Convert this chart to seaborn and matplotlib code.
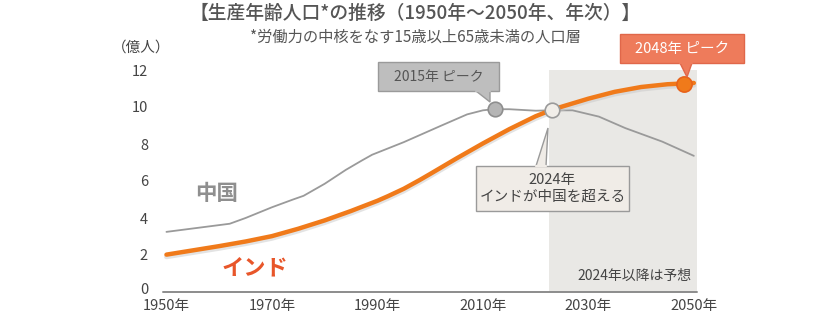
import matplotlib
matplotlib.use("Agg")
import matplotlib.pyplot as plt
import matplotlib.transforms as mtrans
import seaborn as sns
import pandas as pd
from matplotlib.patches import FancyBboxPatch

sns.set_theme(style="white")
plt.rcParams['font.family'] = ['Noto Sans CJK JP', 'DejaVu Sans']

# ---- data (100 million people) ----
china_years = [1950, 1962, 1965, 1970, 1974, 1976, 1980, 1984, 1987, 1989, 1995, 2002,
               2007, 2010, 2012, 2015, 2020, 2023, 2027, 2032, 2037, 2044, 2050]
china_vals = [3.25, 3.69, 4.0, 4.58, 5.0, 5.2, 5.85, 6.6, 7.1, 7.42, 8.1, 8.98,
              9.6, 9.82, 9.88, 9.88, 9.8, 9.82, 9.82, 9.48, 8.86, 8.13, 7.36]
india_years = [1950, 1955, 1960, 1965, 1970, 1975, 1980, 1985, 1990, 1992, 1995, 1998, 2000,
               2005, 2010, 2015, 2020, 2023, 2025, 2030, 2035, 2040, 2045, 2048, 2050]
india_vals = [2.02, 2.25, 2.48, 2.73, 3.02, 3.42, 3.87, 4.38, 4.93, 5.18, 5.58, 6.05, 6.38,
              7.22, 8.03, 8.8, 9.5, 9.84, 10.02, 10.45, 10.82, 11.08, 11.23, 11.27, 11.3]

china_peak = (2012.3, 9.88)
cross_pt = (2023.1, 9.84)
india_peak = (2048.1, 11.27)
forecast_start = 2022.6

xticks = [1950, 1970, 1990, 2010, 2030, 2050]
xtick_labels = [f"{y}年" for y in xticks]
yticks = [0, 2, 4, 6, 8, 10, 12]

df_c = pd.DataFrame({"year": china_years, "val": china_vals})
df_i = pd.DataFrame({"year": india_years, "val": india_vals})

W, H = 823, 315
fig = plt.figure(figsize=(W / 100, H / 100), dpi=100)
x0, x1 = 163.3, 697.0
ytop, ybot = 70.0, 292.0
ax = fig.add_axes([x0 / W, (H - ybot) / H, (x1 - x0) / W, (ybot - ytop) / H])

ax.set_xlim(1949.4, 2050.6)
ax.set_ylim(0, 12)

# forecast shading
ax.axvspan(forecast_start, 2050.6, ymin=0, ymax=1, color="#E9E8E5", zorder=0, lw=0)

sns.lineplot(data=df_c, x="year", y="val", ax=ax, color="#9A9A9A", lw=1.3, zorder=2)
# soft shadow for India line
ax.plot(india_years, [v - 0.12 for v in india_vals], color="#C8C8C8", lw=3.5, alpha=0.5, zorder=2.5,
        solid_capstyle="round")
sns.lineplot(data=df_i, x="year", y="val", ax=ax, color="#F07A1A", lw=3.2, zorder=3)

# markers
ax.scatter([china_peak[0]], [china_peak[1]], s=110, color="#B5B5B5", edgecolor="#8E8E8E", lw=1.2, zorder=5)
ax.scatter([cross_pt[0]], [cross_pt[1]], s=110, color="#F1EEE9", edgecolor="#9A9A9A", lw=1.2, zorder=5)
ax.scatter([india_peak[0]], [india_peak[1]], s=120, color="#F07A1A", edgecolor="#E8621A", lw=1.2,
           zorder=5, clip_on=False)

for s in ["top", "right", "left", "bottom"]:
    ax.spines[s].set_visible(False)
# baseline
ax.axhline(0, color="#8C8C8C", lw=1.4, zorder=4, clip_on=False)

ax.set_xticks(xticks)
ax.set_xticklabels(xtick_labels, fontsize=10.5, color="#444444")
ax.set_yticks(yticks)
ax.set_yticklabels([str(v) for v in yticks], fontsize=10.5, color="#444444")
ax.tick_params(axis="both", length=0)
ax.tick_params(axis="x", pad=5)
ax.tick_params(axis="y", pad=11)
ax.set_xlabel("")
ax.set_ylabel("")
if ax.get_legend():
    ax.get_legend().remove()
# nudge the "0" label up slightly so it clears the first year label
lab0 = ax.get_yticklabels()[0]
lab0.set_transform(lab0.get_transform() + mtrans.ScaledTranslation(0, 2.5 / 72, fig.dpi_scale_trans))


def px(x, y):
    return (x / W, 1 - y / H)


# titles
fig.text(*px(415, 13), "【生産年齢人口*の推移（1950年～2050年、年次）】", fontsize=13.5,
         color="#555555", ha="center", va="center", fontweight="medium")
fig.text(*px(415, 37), "*労働力の中核をなす15歳以上65歳未満の人口層", fontsize=11,
         color="#555555", ha="center", va="center")
fig.text(*px(141, 48), "（億人）", fontsize=10.5, color="#444444", ha="center", va="center")

# series labels
fig.text(*px(217, 193), "中国", fontsize=15.5, color="#8F8F8F", ha="center", va="center", fontweight="bold")
fig.text(*px(255, 268), "インド", fontsize=16, color="#E8562A", ha="center", va="center", fontweight="bold")
fig.text(*px(634, 276), "2024年以降は予想", fontsize=10, color="#444444", ha="center", va="center")


def callout(x, y, w, h, text, fc, ec, tc, tip, base, fs=10):
    bx = FancyBboxPatch(px(x, y + h), w / W, h / H, boxstyle="square,pad=0",
                        transform=fig.transFigure, fc=fc, ec=ec, lw=1.0, zorder=10)
    fig.patches.append(bx)
    tri = plt.Polygon([px(*base[0]), px(*tip), px(*base[1])], closed=True,
                      transform=fig.transFigure, fc=fc, ec=ec, lw=1.0, zorder=11)
    fig.patches.append(tri)
    ln = plt.Line2D([base[0][0] / W, base[1][0] / W], [1 - base[0][1] / H, 1 - base[1][1] / H],
                    transform=fig.transFigure, color=fc, lw=1.6, zorder=12)
    fig.lines.append(ln)
    fig.text(*px(x + w / 2, y + h / 2), text, fontsize=fs, color=tc, ha="center", va="center",
             zorder=13, linespacing=1.25)


callout(378, 62, 121, 29, "2015年 ピーク", "#BEBEBE", "#9A9A9A", "#555555",
        tip=(490, 102), base=[(476, 91), (490, 91)])
callout(620, 34, 124, 29, "2048年 ピーク", "#EE7B5B", "#E0674A", "#FFFFFF",
        tip=(687, 77), base=[(680, 63), (692, 63)], fs=10.5)
callout(476, 166, 153, 45, "2024年\nインドが中国を超える", "#F0ECE7", "#9A9A9A", "#444444",
        tip=(548, 128), base=[(536, 166), (546, 166)], fs=10.5)

fig.savefig("out.png", dpi=100)
